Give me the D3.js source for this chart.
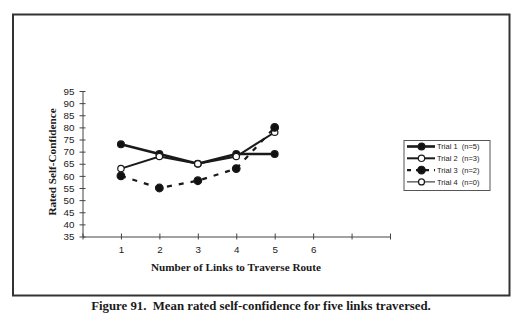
<!DOCTYPE html>
<html><head><meta charset="utf-8">
<script src="https://cdn.jsdelivr.net/npm/d3@7"></script>
<style>body{margin:0;background:#fff}</style>
</head><body>
<svg id="chart" width="522" height="327"></svg>
<script>
// Mean rated self-confidence by number of links in the route
const links = [1, 2, 3, 4, 5];
const trial1 = [73, 69, 65, 69, 69];
const trial2 = [63, 68, 65, 68, 78];
const trial3 = [60, 55, 58, 63, 80];
const trial4 = [];
const seriesNames = ["Trial 1 (n=5)", "Trial 2 (n=3)", "Trial 3 (n=2)", "Trial 4 (n=0)"];
const yTicks = [35, 40, 45, 50, 55, 60, 65, 70, 75, 80, 85, 90, 95];
const xTicks = [0, 1, 2, 3, 4, 5, 6, 7, 8];
const xTickLabels = ["", "1", "2", "3", "4", "5", "6", "", ""];

const styles = [
  {width: 2.6, dash: null, fill: "#111", r: 3.4},
  {width: 2.0, dash: null, fill: "#fff", r: 3.2},
  {width: 2.2, dash: "5,7", fill: "#111", r: 3.8},
  {width: 1.0, dash: null, fill: "#fff", r: 3.0}
];
const seriesValues = [trial1, trial2, trial3, trial4];

const svg = d3.select("#chart");
const ink = "#1a1a1a";

// outer frame
svg.append("rect").attr("x", 13).attr("y", 14.5).attr("width", 496.5).attr("height", 281)
  .attr("fill", "none").attr("stroke", "#333").attr("stroke-width", 2);

const x = d3.scaleLinear().domain([0, 8]).range([82.5, 390]);
const y = d3.scaleLinear().domain([35, 95]).range([236.5, 91]);

// y axis with crossing ticks
const yAxis = svg.append("g").attr("transform", `translate(${x(0)},0)`)
  .call(d3.axisLeft(y).tickValues(yTicks).tickSizeInner(3).tickSizeOuter(0).tickPadding(5));
yAxis.select(".domain").attr("stroke", "#444").attr("stroke-width", 1);
yAxis.selectAll(".tick line").attr("x1", 3).attr("x2", -3).attr("stroke", "#444");
yAxis.selectAll(".tick text").attr("font-family", "Liberation Sans, Arial, sans-serif")
  .attr("font-size", 9.8).attr("fill", ink);

// x axis with crossing ticks
const xAxis = svg.append("g").attr("transform", `translate(0,${y(35)})`)
  .call(d3.axisBottom(x).tickValues(xTicks).tickFormat((d, i) => xTickLabels[i])
    .tickSizeInner(3).tickSizeOuter(0).tickPadding(7));
xAxis.select(".domain").attr("stroke", "#444").attr("stroke-width", 1);
xAxis.selectAll(".tick line").attr("y1", -3).attr("y2", 3).attr("stroke", "#444");
xAxis.selectAll(".tick text").attr("font-family", "Liberation Sans, Arial, sans-serif")
  .attr("font-size", 9.8).attr("fill", ink);

// axis titles
svg.append("text").attr("x", 236).attr("y", 271).attr("text-anchor", "middle")
  .attr("font-family", "Liberation Serif, Times New Roman, serif").attr("font-weight", "bold")
  .attr("font-size", 11.2).attr("fill", ink).text("Number of Links to Traverse Route");
svg.append("text").attr("transform", "translate(56,162) rotate(-90)").attr("text-anchor", "middle")
  .attr("font-family", "Liberation Serif, Times New Roman, serif").attr("font-weight", "bold")
  .attr("font-size", 11.2).attr("fill", ink).text("Rated Self-Confidence");

// caption
svg.append("text").attr("x", 261).attr("y", 309.5).attr("text-anchor", "middle")
  .attr("font-family", "Liberation Serif, Times New Roman, serif").attr("font-weight", "bold")
  .attr("font-size", 12.8).attr("fill", ink)
  .text("Figure 91.\u00a0 Mean rated self-confidence for five links traversed.");

// series lines and markers
const line = d3.line().x(d => x(d[0])).y(d => y(d[1]));
seriesValues.forEach((vals, i) => {
  const pts = vals.map((v, j) => [links[j], v]);
  const s = styles[i];
  const g = svg.append("g");
  g.append("path").datum(pts).attr("d", line).attr("fill", "none").attr("stroke", ink)
    .attr("stroke-width", s.width).attr("stroke-dasharray", s.dash);
  g.selectAll("circle").data(pts).join("circle")
    .attr("cx", d => x(d[0])).attr("cy", d => y(d[1])).attr("r", s.r)
    .attr("fill", s.fill).attr("stroke", ink).attr("stroke-width", 1.2);
});

// legend
const lg = svg.append("g").attr("transform", "translate(404,140.5)");
lg.append("rect").attr("width", 86).attr("height", 50).attr("fill", "#fff")
  .attr("stroke", "#555").attr("stroke-width", 1);
seriesNames.forEach((name, i) => {
  const s = styles[i];
  const yy = 6 + i * 11.8;
  lg.append("line").attr("x1", 3).attr("x2", 31).attr("y1", yy).attr("y2", yy)
    .attr("stroke", ink).attr("stroke-width", s.width).attr("stroke-dasharray", s.dash ? "4,5" : null);
  lg.append("circle").attr("cx", 17.5).attr("cy", yy).attr("r", s.r)
    .attr("fill", s.fill).attr("stroke", ink).attr("stroke-width", 1.2);
  lg.append("text").attr("x", 33).attr("y", yy + 2.7)
    .attr("font-family", "Liberation Sans, Arial, sans-serif").attr("font-size", 7.5)
    .attr("fill", ink).text(name.replace(" (", "\u00a0 ("));
});
</script>
</body></html>
